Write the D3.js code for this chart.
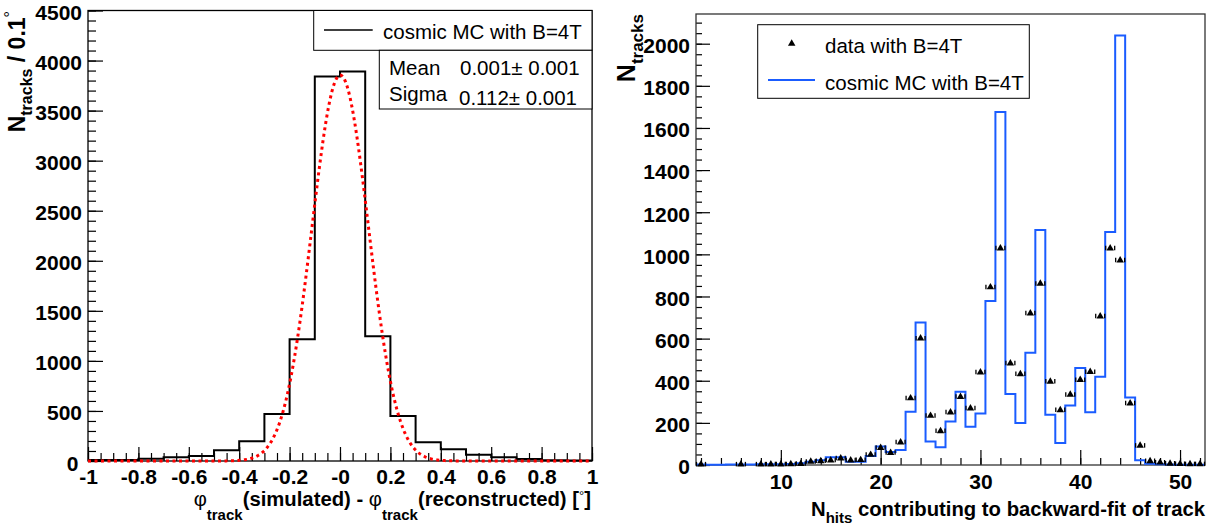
<!DOCTYPE html>
<html><head><meta charset="utf-8">
<script src="https://cdn.jsdelivr.net/npm/d3@7"></script>
<style>
html,body{margin:0;padding:0;background:#fff;}
text{font-family:"Liberation Sans",Arial,Helvetica,sans-serif;}
</style>
</head><body>
<svg id="c" width="1214" height="525"></svg>
<script>
// ---------- LEFT PANEL DATA ----------
const leftBinLow = [-1,-0.9,-0.8,-0.7,-0.6,-0.5,-0.4,-0.3,-0.2,-0.1,0,0.1,0.2,0.3,0.4,0.5,0.6,0.7,0.8,0.9];
const leftBinWidth = 0.1;
const leftCounts = [10,10,23,37,50,107,197,470,1217,3840,3890,1245,449,187,117,63,37,20,7,5];
const fitMean = 0.001, fitSigma = 0.112, fitPeak = 3855;
const leftXTicks = [-1,-0.8,-0.6,-0.4,-0.2,0,0.2,0.4,0.6,0.8,1];
const leftXTickLabels = ["-1","-0.8","-0.6","-0.4","-0.2","-0","0.2","0.4","0.6","0.8","1"];
const leftYTicks = [0,500,1000,1500,2000,2500,3000,3500,4000,4500];
const leftLegend = "cosmic MC with B=4T";
const statNames = ["Mean","Sigma"];
const statValues = ["0.001\u00B1 0.001","0.112\u00B1 0.001"];

// ---------- RIGHT PANEL DATA ----------
const rightBins = [2,3,4,5,6,7,8,9,10,11,12,13,14,15,16,17,18,19,20,21,22,23,24,25,26,27,28,29,30,31,32,33,34,35,36,37,38,39,40,41,42,43,44,45,46,47,48,49,50,51,52];
const mcCounts = [2,1,1,2,2,2,3,3,4,5,8,16,22,37,37,16,16,43,88,62,71,253,677,111,84,207,348,182,245,779,1676,337,199,533,1116,239,104,283,461,250,419,1106,2039,320,22,6,3,2,1,1,1];
const dataBins = [2,6,8,9,10,11,12,13,14,15,16,17,18,19,20,21,22,23,24,25,26,27,28,29,30,31,32,33,34,35,36,37,38,39,40,41,42,43,44,45,46,47,48,49,50,51,52];
const dataCounts = [3,3,3,3,3,4,6,16,19,22,32,22,24,49,82,58,108,317,601,234,161,250,324,269,440,844,1029,483,432,720,861,396,261,334,404,442,706,1029,972,293,92,19,12,7,5,4,4];
const rightXTicks = [10,20,30,40,50];
const rightYTicks = [0,200,400,600,800,1000,1200,1400,1600,1800,2000];
const rightLegend = ["data with B=4T","cosmic MC with B=4T"];

const svg = d3.select("#c");
svg.append("rect").attr("width",1214).attr("height",525).attr("fill","#fff");
const FS = 21;     // tick labels (bold)
const TFS = 20.3;  // axis titles (bold)
const LFS = 20.5;  // legend text

function axesFor(x, y, xt, xlabels, yt, xMinorStep, yMinorStep, xMaj, xMin, yMaj, yMin, ydy, xpad){
  const g = svg.append("g");
  const [x0,x1] = x.domain(), [y0,y1] = y.domain();
  const xm = d3.range(Math.ceil(x0/xMinorStep - 1e-9), Math.floor(x1/xMinorStep + 1e-9)+1).map(i=>i*xMinorStep);
  const ym = d3.range(Math.ceil(y0/yMinorStep - 1e-9), Math.floor(y1/yMinorStep + 1e-9)+1).map(i=>i*yMinorStep);
  const by = y.range()[0], lx = x.range()[0];
  g.append("g").attr("transform",`translate(0,${by})`)
    .call(d3.axisBottom(x).tickValues(xm).tickSizeInner(-xMin).tickSizeOuter(0).tickFormat(""))
    .call(s=>s.select(".domain").remove());
  const gx = g.append("g").attr("transform",`translate(0,${by})`)
    .call(d3.axisBottom(x).tickValues(xt).tickSizeInner(-xMaj).tickSizeOuter(0).tickPadding(xpad)
      .tickFormat((d,i)=>xlabels[i]))
    .call(s=>s.select(".domain").remove());
  g.append("g").attr("transform",`translate(${lx},0)`)
    .call(d3.axisLeft(y).tickValues(ym).tickSizeInner(-yMin).tickSizeOuter(0).tickFormat(""))
    .call(s=>s.select(".domain").remove());
  const gy = g.append("g").attr("transform",`translate(${lx},0)`)
    .call(d3.axisLeft(y).tickValues(yt).tickSizeInner(-yMaj).tickSizeOuter(0).tickPadding(6)
      .tickFormat(d3.format("d")))
    .call(s=>s.select(".domain").remove());
  g.selectAll(".tick line").attr("stroke","#000").attr("stroke-width",1.2);
  g.selectAll(".tick text").attr("font-size",FS).attr("font-weight","bold").attr("fill","#000")
    .attr("font-family",'"Liberation Sans",Arial,sans-serif');
  gy.selectAll(".tick text").attr("dy",ydy);
  gx.selectAll(".tick text").attr("dy","0.7em");
  return {g, gx, gy};
}

// ===== LEFT =====
const xL = d3.scaleLinear().domain([-1,1]).range([88,592]);
const yL = d3.scaleLinear().domain([0,4500]).range([461,10.5]);
const axL = axesFor(xL,yL,leftXTicks,leftXTickLabels,leftYTicks,0.05,100,14,8,15,8,"0.43em",8);
// keep the "0" label clear of the "-1" label below it
axL.gy.selectAll(".tick text").filter(d=>d===0).attr("x",-9.5);

svg.append("rect").attr("x",xL(-1)).attr("y",yL(4500)).attr("width",xL(1)-xL(-1)).attr("height",yL(0)-yL(4500))
  .attr("fill","none").attr("stroke","#000").attr("stroke-width",1.3);

const lpts = [];
leftBinLow.forEach((lo,i)=>{ lpts.push([lo,leftCounts[i]]); lpts.push([lo+leftBinWidth,leftCounts[i]]); });
svg.append("path").attr("d",d3.line().x(d=>xL(d[0])).y(d=>yL(d[1]))(lpts))
  .attr("fill","none").attr("stroke","#000").attr("stroke-width",2);

const gxs = d3.range(-1,1.0001,0.004);
svg.append("path").attr("d",d3.line().x(d=>xL(d)).y(d=>yL(fitPeak*Math.exp(-0.5*Math.pow((d-fitMean)/fitSigma,2))))(gxs))
  .attr("fill","none").attr("stroke","#ff0000").attr("stroke-width",3).attr("stroke-dasharray","3,3.5");

svg.append("rect").attr("x",313.7).attr("y",10.5).attr("width",592-313.7).attr("height",50.3-10.5)
  .attr("fill","#fff").attr("stroke","#000").attr("stroke-width",1);
svg.append("line").attr("x1",324).attr("x2",372.7).attr("y1",30).attr("y2",30).attr("stroke","#000").attr("stroke-width",1.5);
svg.append("text").attr("x",383).attr("y",39).attr("font-size",LFS).text(leftLegend);
svg.append("rect").attr("x",379.3).attr("y",50.3).attr("width",592-379.3).attr("height",109-50.3)
  .attr("fill","#fff").attr("stroke","#000").attr("stroke-width",1);
svg.append("text").attr("x",389).attr("y",75).attr("font-size",LFS).text(statNames[0]);
svg.append("text").attr("x",460).attr("y",75).attr("font-size",LFS).text(statValues[0]);
svg.append("text").attr("x",389).attr("y",101).attr("font-size",LFS).text(statNames[1]);
svg.append("text").attr("x",459).attr("y",104.5).attr("font-size",LFS).text(statValues[1]);

const ytL = svg.append("text").attr("transform","translate(25,11) rotate(-90)").attr("text-anchor","end")
  .attr("font-weight","bold");
ytL.append("tspan").attr("font-size",23).text("N");
ytL.append("tspan").attr("font-size",16).attr("dy",7).text("tracks");
ytL.append("tspan").attr("font-size",23).attr("dy",-7).text(" / 0.1");
ytL.append("tspan").attr("font-size",16).attr("dy",-9).attr("font-weight","normal").text("\u00B0");

const xtL = svg.append("text").attr("x",591).attr("y",506).attr("text-anchor","end").attr("font-weight","bold").attr("font-size",TFS);
xtL.append("tspan").attr("font-weight","normal").text("\u03C6");
xtL.append("tspan").attr("font-size",15).attr("dy",14).text("track");
xtL.append("tspan").attr("dy",-14).text("(simulated) - ");
xtL.append("tspan").attr("font-weight","normal").text("\u03C6");
xtL.append("tspan").attr("font-size",15).attr("dy",14).text("track");
xtL.append("tspan").attr("dy",-14).text("(reconstructed) [");
xtL.append("tspan").attr("font-size",13).attr("font-weight","normal").attr("dy",-6).text("\u00B0");
xtL.append("tspan").attr("dy",6).text("]");

// ===== RIGHT =====
const xR = d3.scaleLinear().domain([1.5,52.5]).range([696,1205]);
const yR = d3.scaleLinear().domain([0,2141]).range([465,14]);
axesFor(xR,yR,rightXTicks,rightXTicks.map(String),rightYTicks,2,50,15,7,14,6,"0.42em",9);
svg.append("rect").attr("x",xR(1.5)).attr("y",yR(2141)).attr("width",xR(52.5)-xR(1.5)).attr("height",yR(0)-yR(2141))
  .attr("fill","none").attr("stroke","#333").attr("stroke-width",1.3);

const rpts = [];
rightBins.forEach((c,i)=>{ rpts.push([c-0.5,mcCounts[i]]); rpts.push([c+0.5,mcCounts[i]]); });
svg.append("path").attr("d",d3.line().x(d=>xR(d[0])).y(d=>yR(d[1]))(rpts))
  .attr("fill","none").attr("stroke","#1a5cff").attr("stroke-width",2);

const tri = d3.symbol().type(d3.symbolTriangle).size(24);
const gp = svg.append("g");
dataBins.forEach((c,i)=>{
  const cx = xR(c), cy = yR(dataCounts[i]);
  const hw = (xR(c+0.5)-xR(c));
  gp.append("line").attr("x1",cx-hw+0.5).attr("x2",cx-hw+0.5).attr("y1",cy-2.5).attr("y2",cy+2).attr("stroke","#000").attr("stroke-width",1.3);
  gp.append("line").attr("x1",cx+hw-0.5).attr("x2",cx+hw-0.5).attr("y1",cy-2.5).attr("y2",cy+2).attr("stroke","#000").attr("stroke-width",1.3);
  gp.append("path").attr("d",tri).attr("transform",`translate(${cx},${cy})`).attr("fill","#000");
});

svg.append("rect").attr("x",757.7).attr("y",24.7).attr("width",1029.3-757.7).attr("height",98.3-24.7)
  .attr("fill","#fff").attr("stroke","#000").attr("stroke-width",1);
svg.append("path").attr("d",tri).attr("transform","translate(791.7,43.5)").attr("fill","#000");
svg.append("text").attr("x",825).attr("y",53).attr("font-size",LFS).text(rightLegend[0]);
svg.append("line").attr("x1",768).attr("x2",815).attr("y1",80).attr("y2",80).attr("stroke","#1a5cff").attr("stroke-width",2);
svg.append("text").attr("x",825).attr("y",90).attr("font-size",LFS).text(rightLegend[1]);

const ytR = svg.append("text").attr("transform","translate(635,14) rotate(-90)").attr("text-anchor","end").attr("font-weight","bold");
ytR.append("tspan").attr("font-size",25).text("N");
ytR.append("tspan").attr("font-size",17).attr("dy",8).text("tracks");

const xtR = svg.append("text").attr("x",1205).attr("y",515.5).attr("text-anchor","end").attr("font-weight","bold").attr("font-size",TFS);
xtR.append("tspan").text("N");
xtR.append("tspan").attr("font-size",15).attr("dy",7).text("hits");
xtR.append("tspan").attr("dy",-7).text(" contributing to backward-fit of track");
</script>
</body></html>
